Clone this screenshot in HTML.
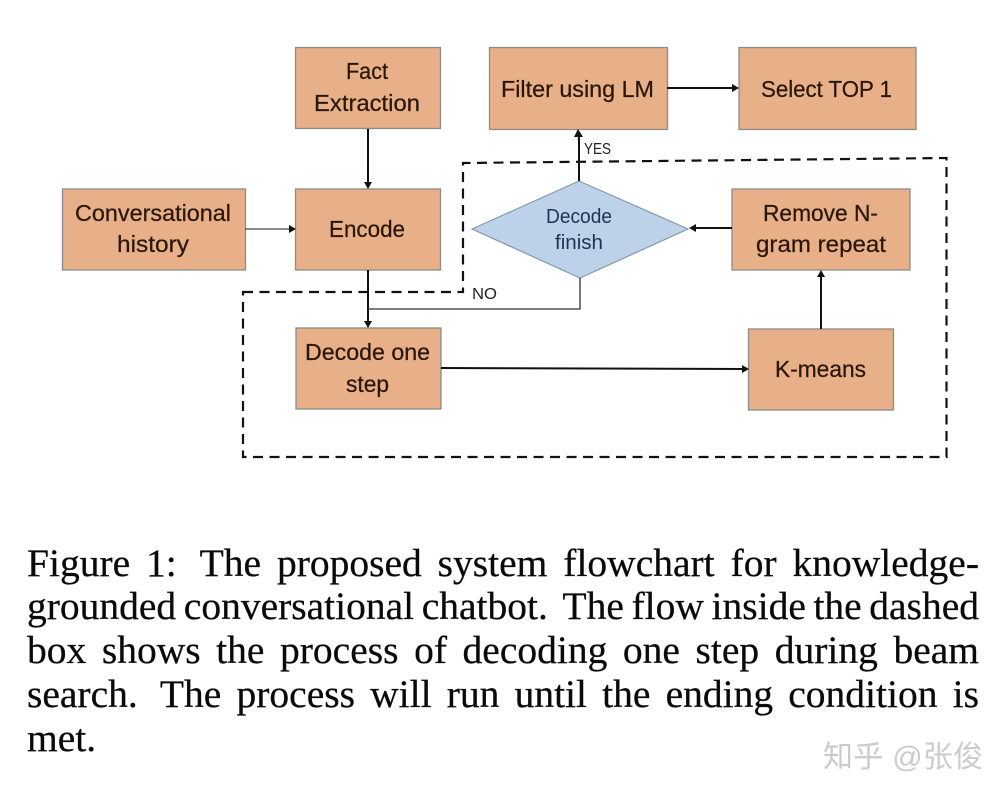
<!DOCTYPE html>
<html><head><meta charset="utf-8"><style>
html,body{margin:0;padding:0;background:#fff;width:1008px;height:796px;overflow:hidden}
svg{position:absolute;left:0;top:0}
.c{position:absolute;left:27px;width:952px;font:39.5px/44px "Liberation Serif",serif;color:#0a0a0a;-webkit-text-stroke:.25px #0a0a0a;text-align:justify;text-align-last:justify;white-space:nowrap}
.c i{display:inline-block;width:7px}
.wm{position:absolute;left:823px;top:739px;font:30px/38px "Liberation Sans","Noto Sans CJK SC",sans-serif;color:#cbcbcb;letter-spacing:.3px;white-space:nowrap}
</style></head><body>
<svg width="1008" height="796" viewBox="0 0 1008 796" xmlns="http://www.w3.org/2000/svg">
<g fill="#e7b088" stroke="#8b8b88" stroke-width="1.3">
<rect x="295.5" y="47.5" width="145" height="81"/>
<rect x="489.5" y="47.5" width="178" height="82"/>
<rect x="739" y="47.5" width="177" height="82"/>
<rect x="62.5" y="189" width="183" height="81"/>
<rect x="295.5" y="189" width="145" height="81"/>
<rect x="732" y="189" width="178" height="81"/>
<rect x="296" y="328" width="145" height="81"/>
<rect x="748.5" y="329" width="145" height="81"/>
</g>
<polygon points="472,229 579,181 688,229 580,278" fill="#bdd2e8" stroke="#8398ae" stroke-width="1.2"/>
<path d="M243 292H463V163L946.500 158V457H243Z" fill="none" stroke="#111" stroke-width="2.200" stroke-dasharray="10 6.500"/>
<g fill="none" stroke="#111">
<path d="M368 129V184" stroke-width="2"/>
<path d="M245 229H291" stroke-width="1.300" stroke="#444"/>
<path d="M368 270V323" stroke-width="2"/>
<path d="M580 278V309H368" stroke-width="1.300" stroke="#333"/>
<path d="M579 181V134" stroke-width="2"/>
<path d="M667 88H735" stroke-width="2"/>
<path d="M732 228H694" stroke-width="2"/>
<path d="M821 329V275" stroke-width="2"/>
<path d="M441 368L744 369" stroke-width="2"/>
</g>
<g fill="#111">
<polygon points="368,189 364,182 372,182"/>
<polygon points="296,229 289,225 289,233"/>
<polygon points="368,328 364,321 372,321"/>
<polygon points="578,129 574,137 583,137"/>
<polygon points="739,88 732,84 732,92"/>
<polygon points="689,228 696,224 696,232"/>
<polygon points="821,270 817,277 825,277"/>
<polygon points="749,369 742,365 742,373"/>
</g>
<g font-family="Liberation Sans, sans-serif" font-size="23.500" fill="#2b1608" stroke="#2b1608" stroke-width=".25">
<text x="346" y="79" textLength="42" lengthAdjust="spacingAndGlyphs">Fact</text>
<text x="314" y="111" textLength="106" lengthAdjust="spacingAndGlyphs">Extraction</text>
<text x="75" y="221" textLength="156" lengthAdjust="spacingAndGlyphs">Conversational</text>
<text x="117" y="252" textLength="72" lengthAdjust="spacingAndGlyphs">history</text>
<text x="329" y="237" textLength="76" lengthAdjust="spacingAndGlyphs">Encode</text>
<text x="305" y="360" textLength="125" lengthAdjust="spacingAndGlyphs">Decode one</text>
<text x="346" y="392" textLength="43" lengthAdjust="spacingAndGlyphs">step</text>
<text x="501" y="97" textLength="153" lengthAdjust="spacingAndGlyphs">Filter using LM</text>
<text x="761" y="97" textLength="131" lengthAdjust="spacingAndGlyphs">Select TOP 1</text>
<text x="763" y="221" textLength="115" lengthAdjust="spacingAndGlyphs">Remove N-</text>
<text x="756" y="252" textLength="130" lengthAdjust="spacingAndGlyphs">gram repeat</text>
<text x="775" y="377" textLength="91" lengthAdjust="spacingAndGlyphs">K-means</text>
</g>
<g font-family="Liberation Sans, sans-serif" font-size="20" fill="#1d3550">
<text x="546" y="223" textLength="66" lengthAdjust="spacingAndGlyphs">Decode</text>
<text x="555" y="249" textLength="48" lengthAdjust="spacingAndGlyphs">finish</text>
</g>
<g font-family="Liberation Sans, sans-serif" font-size="15.500" fill="#222">
<text x="584" y="154" textLength="27" lengthAdjust="spacingAndGlyphs">YES</text>
<text x="472" y="299" textLength="25" lengthAdjust="spacingAndGlyphs">NO</text>
</g>
</svg>
<div class="c" style="top:541px">Figure 1: <i></i>The proposed system flowchart for knowledge-</div>
<div class="c" style="top:584px;word-spacing:-2.5px">grounded conversational chatbot. <i></i>The flow inside the dashed</div>
<div class="c" style="top:628px">box shows the process of decoding one step during beam</div>
<div class="c" style="top:672px">search. <i></i>The process will run until the ending condition is</div>
<div class="c" style="top:716px;text-align-last:left;width:auto">met.</div>
<div class="wm">知乎 @张俊</div>
</body></html>
